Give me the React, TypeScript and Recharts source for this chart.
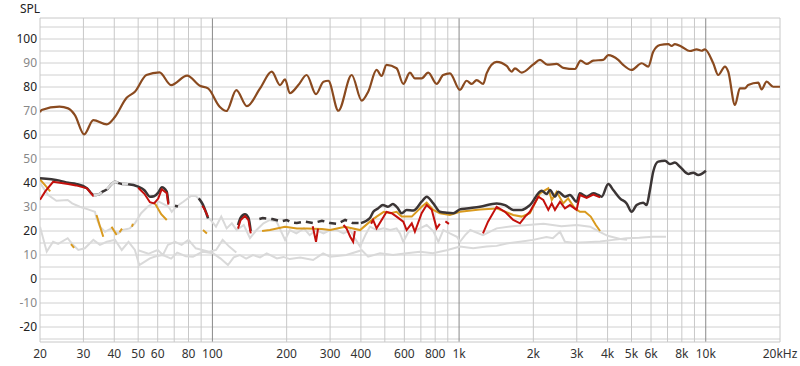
import { LineChart, Line, XAxis, YAxis, ReferenceLine } from 'recharts';

type P = [number, number | null];

// ---- axes ----
const xTicks = [20, 30, 40, 50, 60, 80, 100, 200, 300, 400, 600, 800, 1000, 2000, 3000, 4000, 5000, 6000, 8000, 10000, 20000];
const xGrid = [30, 40, 50, 60, 70, 80, 90, 200, 300, 400, 500, 600, 700, 800, 900, 2000, 3000, 4000, 5000, 6000, 7000, 8000, 9000];
const xDecades = [100, 1000, 10000];
const yTicks = [-20, -10, 0, 10, 20, 30, 40, 50, 60, 70, 80, 90, 100];
const yGrid = [-25, -20, -15, -10, -5, 0, 5, 10, 15, 20, 25, 30, 35, 40, 45, 50, 55, 60, 65, 70, 75, 80, 85, 90, 95, 100, 105];
const yDomain: [number, number] = [-26.25, 108.75];

// ---- series (frequency Hz, SPL dB) ----
const brown: P[] = [
  [20, 69.5], [20.3, 70.4], [24, 71.8], [26, 71.1], [27.7, 68.3], [30.2, 60.3], [32.9, 66.2], [37.3, 64.4], [40.3, 67.6],
  [44.9, 75.5], [48.5, 78], [54, 85], [61, 86.1], [68, 80.8], [79, 84.7], [89, 80.5], [96, 79.4], [107, 71.8], [114, 70],
  [125, 78.7], [138, 72], [156, 79.4], [174, 86.4], [188, 80.8], [197, 83.2], [206, 77.4], [223, 80.8], [241, 85], [263, 77],
  [282, 82.2], [295, 82.6], [324, 70.1], [367, 85], [403, 74.3], [428, 78], [463, 87.1], [485, 84.6], [508, 89.2], [558, 87.8],
  [594, 81.3], [632, 86], [662, 83.6], [705, 83.6], [750, 86], [811, 81.3], [862, 85], [918, 85.7], [1008, 78.8], [1073, 82.6],
  [1125, 81.3], [1178, 82.9], [1253, 81.3], [1293, 85.7], [1420, 90.5], [1559, 88.8], [1634, 86.4], [1685, 87.8], [1794, 86],
  [2000, 89.4], [2128, 91.3], [2278, 89.3], [2487, 89.6], [2644, 88], [2949, 87.5], [3110, 91], [3289, 89.6], [3499, 91],
  [3840, 91.3], [4025, 93.3], [4418, 91.3], [4628, 89.2], [5006, 87.1], [5497, 89.9], [5845, 88.5], [6124, 94.7], [6520, 97.5],
  [7046, 97.9], [7273, 97.1], [7500, 97.9], [7985, 96.8], [8625, 95], [9184, 95.7], [9622, 95.1], [9923, 95.7], [10725, 89.9],
  [11236, 85], [11962, 88.5], [12336, 86.4], [13131, 72.5], [13755, 79.4], [14410, 79.4], [14858, 80.8], [16322, 81.8],
  [16846, 79], [17650, 82.2], [18772, 80.1], [20000, 80.1],
];

const dark: P[] = [
  [20, 42], [24, 41], [26, 40.1], [28, 39.6], [31, 37.8], [33, 35], [34.5, 35.2], [36, 36.5], [37.5, 37.5], [39, 39.5],
  [40.3, 40.5], [41.5, 40], [43, 39.6], [45.5, 39.5], [50, 38.5], [53, 37], [55.8, 34.3], [58, 34.5], [60.3, 36], [62.3, 38.2],
  [65.3, 36.4], [66.3, 31.5], [68, null], [70.5, 30.5], [72.5, 30.2], [80, null], [88, 33.6], [91.5, 31], [94, 28], [96, 25.3],
  [110, null], [127, 22.5], [130, 25.5], [135.5, 27], [140, 25.5], [143, 20], [150, null],
  [400, 23.3], [435, 25.4], [449, 28], [469, 29.4], [491, 30.8], [515, 30.1], [539, 31.3], [565, 29.4], [585, 27.4], [613, 28.8],
  [652, 28.5], [705, 32.2], [739, 34.3], [786, 31.5], [836, 28], [890, 27.6], [947, 27.4], [1008, 29], [1073, 29.4], [1215, 30.1],
  [1420, 31.5], [1535, 30.8], [1658, 28.8], [1794, 28.8], [1937, 30.8], [2162, 36.8], [2265, 35.4], [2336, 37.1], [2447, 34.3],
  [2524, 36.4], [2686, 34.3], [2815, 35], [2995, 32.2], [3089, 35.7], [3289, 34.3], [3499, 35.7], [3666, 35], [3783, 34.3],
  [4025, 39.6], [4217, 37.1], [4489, 33.6], [4778, 31.5], [5006, 28], [5245, 30.8], [5578, 31.8], [5758, 30.8], [5939, 37.1],
  [6124, 44.7], [6416, 48.9], [6834, 49.3], [7159, 47.9], [7500, 48.5], [7858, 46.8], [8494, 43.8], [8899, 44.3], [9324, 43.3],
  [10017, 45.1],
];

const darkDashed: P[] = [
  [155, 25], [160, 25.4], [175, 25], [190, 24], [200, 24.6], [210, 23.5], [220, 23.3], [237, 23.9], [256, 23.3], [278, 24.3],
  [300, 23.3], [320, 23], [345, 24.6], [370, 23.3], [400, 23.3],
];

const red: P[] = [
  [20, 33], [21, 36.5], [22.6, 40.5], [26, 39.6], [28, 39], [31, 37.8], [33, 34.4], [40, null],
  [50, 38], [53, 35.5], [55.8, 32], [58, 31.5], [60.3, 33.5], [62.3, 37.4], [65.3, 35.8], [66.3, 31], [80, null],
  [91, 30.5], [93, 29], [95.9, 26], [110, null], [127, 21], [130, 24.5], [135.5, 26.3], [140, 24.5], [143, 19], [200, null],
  [255, 22], [263, 15.5], [268, 21], [300, null], [340, 22.5], [350, 21], [362, 17.6], [372, 15.5], [378, 20], [420, null],
  [440, 23], [448, 24.6], [463, 21.1], [495, 26], [508, 28], [533, 27.4], [558, 26], [594, 23.9], [613, 20.4], [643, 23.2],
  [662, 19.7], [705, 27.4], [739, 30.8], [775, 28.8], [811, 21.1], [836, 23], [850, null], [880, 24], [910, 23], [1000, null],
  [1250, 19], [1310, 23.9], [1420, 30.1], [1535, 28], [1658, 24.6], [1765, 23.2], [1852, 26], [1937, 28], [2095, 34.3],
  [2195, 32.9], [2300, 28.8], [2375, 31.5], [2447, 28.8], [2565, 32.2], [2686, 29.4], [2815, 30.8], [2995, 28.8], [3089, 35],
  [3289, 33.8], [3499, 35.2], [3730, 34],
];

const orange: P[] = [
  [20, 41.5], [21, 39], [22, 36.5], [24, null], [26.7, 14.5], [27.5, 13], [30, null], [33.9, 26.7], [35, 22], [36.1, 17.6],
  [37, null], [39, 21.8], [40.9, 18.3], [41.5, null], [42, 19.5], [43, 21], [45, null], [47.2, 21.8], [47.6, 23], [50, null],
  [58.5, 31.5], [62, 27], [65.3, 24.6], [80, null], [91.6, 20.4], [95, 19], [120, null],
  [159, 20], [171, 20.4], [197, 21.8], [220, 21], [241, 21], [278, 20.8], [300, 20.4], [345, 21.8], [397, 20.4], [435, 23.9],
  [463, 26], [495, 28], [526, 27.4], [558, 28], [585, 26], [643, 26], [705, 30.1], [739, 31.8], [786, 28.8], [836, 27.4],
  [918, 26.7], [1008, 28], [1215, 29], [1420, 29.4], [1658, 26.7], [1794, 26], [1937, 27.4], [2128, 35.7], [2300, 37.8],
  [2375, 32.9], [2487, 36.4], [2644, 31.5], [2767, 33.6], [2949, 29.4], [3089, 28], [3240, 28], [3418, 26], [3584, 22.5],
  [3730, 20],
];

const greyUpper: P[] = [
  [20, 40], [21.6, 35], [23.3, 32.6], [25.9, 32.9], [27, 31.5], [29, 30.1], [31.3, 29], [33.4, 28], [33.9, 25.3], [35, 21.8],
  [36.7, 19.7], [39, 21.1], [41.5, 19], [43.3, 20.4], [46.2, 21.1], [48.5, 23.2], [51.4, 27.4], [54.6, 30.1], [57.3, 31.5],
  [60, 32.5], [64, 31], [66.5, 30], [68.4, 28], [71.3, 30.1], [76.2, 32.2], [81.9, 34.6], [85.6, 34.6], [89, 33], [93, 29],
  [96, 25.5], [98.4, 24.6], [103.4, 21.8], [108.6, 26], [114.2, 21.1], [119.9, 23.2], [125.4, 20.4], [134, 22.5], [142, 17],
  [151, 20.4], [161, 23.2], [171, 24.6], [182, 23.9], [197, 16.3], [206, 20.4], [219, 19], [235, 21.1], [248, 18.3],
  [263, 20.4], [282, 19], [300, 20.4], [319, 20.4], [340, 19], [362, 20.4], [378, 17], [397, 13.5], [417, 18.3], [435, 21.8],
  [463, 20.4], [495, 21.1], [526, 20.4], [558, 21.1], [576, 19], [594, 15.5], [624, 19.7], [672, 20.4], [739, 22.5], [786, 20],
  [824, 15.5], [863, 20.4], [918, 19], [980, 17.6], [1008, 15.5], [1058, 18.3], [1110, 20.4], [1250, 18.3], [1420, 21.1],
  [1650, 22], [1900, 22.5], [2200, 23], [2600, 22], [3000, 22.5], [3400, 21.8], [3700, 19.7], [4000, 18], [4500, 16.7],
  [4800, 16.3],
];

const greyOverlay: P[] = [
  [33, 35], [34.5, 35.2], [35.6, 36.2], [36.5, null], [37.3, 37.4], [39, 39.5], [40.3, 40.5], [41.5, 40], [42, null],
  [43, 39.6], [44.5, 39.7], [45.5, 39.5],
];

const greyMid: P[] = [
  [50, 12], [55, 10.5], [60, 12.1], [63, 10], [66, 14.2], [70.5, 15.5], [75, 14.2], [80, 16.3], [85.6, 12.8], [91, 12.1],
  [97, 11.4], [103.5, 12.1], [110, 16.3], [117, 13.5], [125, 11],
];

const greyLow: P[] = [
  [20, 21.8], [21.3, 11.4], [22.6, 15.5], [23.7, 14.6], [25.9, 17], [27, 14.6], [28.6, 12.1], [30.4, 12.8], [32.9, 16.3],
  [35, 14.2], [37.3, 15.5], [40.3, 16.3], [42.9, 12.1], [45.7, 15.5], [48.5, 12.1], [50.5, 5.8], [55.8, 8.6], [59, 9.5],
  [63, 10], [68, 8.5], [72, 11], [78, 9.5], [83.4, 9.3], [91.6, 11.4], [100.6, 10.7], [108, 8.5], [115.6, 5.8], [122, 9],
  [129, 10], [137, 8.5], [146, 10], [156, 9], [166, 10.7], [182.6, 8.6], [194, 9.2], [206, 8.3], [227, 9], [256, 7.9],
  [281, 10.7], [300, 9.3], [349, 10], [403, 12], [428, 9.3], [478, 10.7], [540, 10], [613, 10.7], [694, 11.4], [783, 10.7],
  [890, 12], [1008, 13.5], [1140, 12.8], [1293, 13.5], [1420, 13.8], [1559, 14.8], [1765, 15.5], [1994, 16.3], [2260, 17.5],
  [2400, 17], [2565, 19.7], [2686, 15.5], [2900, 15.1], [3289, 15.3], [3730, 15.6], [4217, 16.3], [4778, 17], [5380, 17.2],
  [6100, 17.6], [6900, 17.6],
];

const toRows = (pts: P[]) => pts.map(([f, v]) => ({ f, v }));

const fmtX = (f: number) => (f === 20000 ? '20kHz' : f >= 1000 ? `${f / 1000}k` : `${f}`);

const YTick = (props: any) => {
  const { x, y, payload } = props;
  const v = payload.value as number;
  return (
    <text x={x} y={y} dy="0.36em" textAnchor="end" fontSize={12} fill={v % 20 === 0 ? '#222' : '#888'}>
      {v}
    </text>
  );
};

const GREY = '#d9d9d9';

export default function App() {
  const font = '"Noto Sans", "Open Sans", sans-serif';
  return (
    <div style={{ position: 'absolute', left: 0, top: 0, width: 800, height: 366, background: '#fff', fontFamily: font }}>
      <div style={{ position: 'absolute', left: 20, top: 0, fontSize: 12, color: '#222' }}>SPL</div>
      <LineChart width={800} height={366} margin={{ top: 18, right: 20, bottom: 0, left: 0 }}>
        <XAxis
          dataKey="f"
          type="number"
          scale="log"
          domain={[20, 20000]}
          allowDataOverflow
          ticks={xTicks}
          tickFormatter={fmtX}
          interval={0}
          height={24}
          tickSize={0}
          tickMargin={7}
          axisLine={false}
          tick={{ fontSize: 12, fill: '#333' }}
        />
        <YAxis
          type="number"
          domain={yDomain}
          allowDataOverflow
          ticks={yTicks}
          interval={0}
          width={40}
          tickSize={0}
          tickMargin={3}
          axisLine={false}
          tick={<YTick />}
        />
        {yGrid.map((v) => (
          <ReferenceLine key={`h${v}`} y={v} stroke="#d0d0d0" strokeWidth={1} />
        ))}
        {xGrid.map((f) => (
          <ReferenceLine key={`v${f}`} x={f} stroke="#c8c8c8" strokeWidth={1} />
        ))}
        {xDecades.map((f) => (
          <ReferenceLine key={`d${f}`} x={f} stroke="#8a8a8a" strokeWidth={1} />
        ))}
        <ReferenceLine x={20} stroke="#c8c8c8" />
        <ReferenceLine x={20000} stroke="#c8c8c8" />
        <ReferenceLine y={yDomain[1]} stroke="#c8c8c8" />
        <ReferenceLine y={yDomain[0]} stroke="#c8c8c8" />

        <Line data={toRows(greyLow)} dataKey="v" stroke={GREY} strokeWidth={2} dot={false} activeDot={false} type="linear" isAnimationActive={false} />
        <Line data={toRows(greyMid)} dataKey="v" stroke={GREY} strokeWidth={2} dot={false} activeDot={false} type="linear" isAnimationActive={false} />
        <Line data={toRows(greyUpper)} dataKey="v" stroke={GREY} strokeWidth={2} dot={false} activeDot={false} type="linear" isAnimationActive={false} />
        <Line data={toRows(orange)} dataKey="v" stroke="#d99a1e" strokeWidth={2} dot={false} activeDot={false} type="linear" isAnimationActive={false} />
        <Line data={toRows(dark)} dataKey="v" stroke="#3b3535" strokeWidth={2.5} dot={false} activeDot={false} type="monotone" isAnimationActive={false} />
        <Line data={toRows(darkDashed)} dataKey="v" stroke="#3b3535" strokeWidth={2.5} strokeDasharray="7 5" dot={false} activeDot={false} type="linear" isAnimationActive={false} />
        <Line data={toRows(red)} dataKey="v" stroke="#c4100c" strokeWidth={2} dot={false} activeDot={false} type="linear" isAnimationActive={false} />
        <Line data={toRows(greyOverlay)} dataKey="v" stroke={GREY} strokeWidth={2.5} dot={false} activeDot={false} type="monotone" isAnimationActive={false} />
        <Line data={toRows(brown)} dataKey="v" stroke="#8a4a1f" strokeWidth={2.2} dot={false} activeDot={false} type="monotone" isAnimationActive={false} />
      </LineChart>
    </div>
  );
}
